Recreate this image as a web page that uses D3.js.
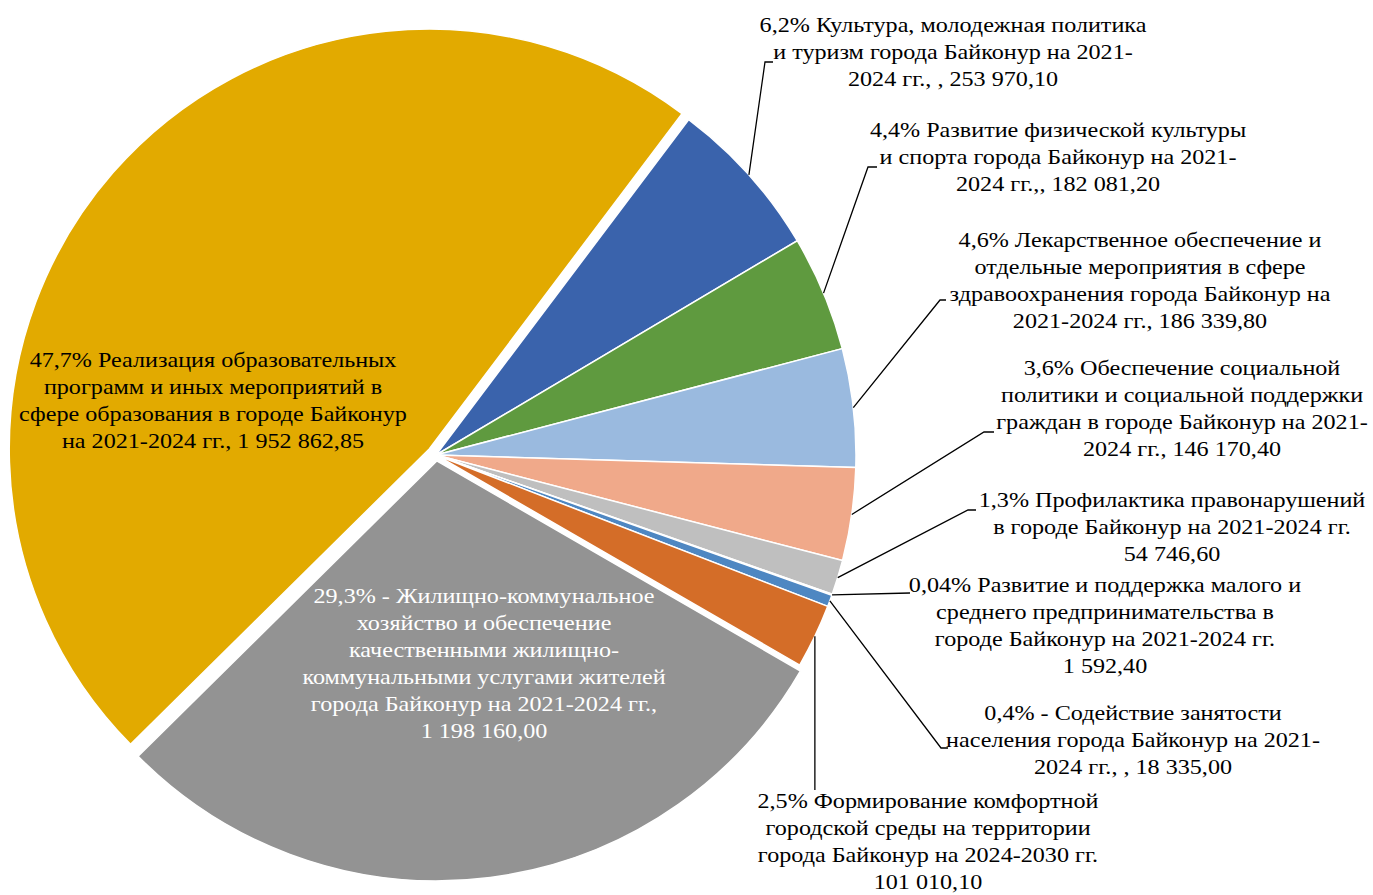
<!DOCTYPE html>
<html>
<head>
<meta charset="utf-8">
<script src="https://cdn.jsdelivr.net/npm/d3@7"></script>
<style>
  body { margin: 0; background: #fff; }
  svg { display: block; }
  text { font-family: "Liberation Serif", "Times New Roman", serif; font-size: 21px; }
</style>
</head>
<body>
<svg width="1373" height="895"></svg>
<script>
// data, in pie order (clockwise)
const categories = [
  'Культура', 'Физкультура и спорт', 'Лекарственное обеспечение', 'Социальная политика',
  'Профилактика правонарушений', 'Малое и среднее предпринимательство', 'Содействие занятости',
  'Комфортная городская среда', 'ЖКХ', 'Образование'
];
const values = [253970.10, 182081.20, 186339.80, 146170.40, 54746.60, 1592.40, 18335.00, 101010.10, 1198160.00, 1952862.85];
const labelLines = [
  ['6,2% Культура, молодежная политика', 'и туризм города Байконур на 2021-', '2024 гг., , 253 970,10'],
  ['4,4% Развитие физической культуры', 'и спорта города Байконур на 2021-', '2024 гг.,, 182 081,20'],
  ['4,6% Лекарственное обеспечение и', 'отдельные мероприятия в сфере', 'здравоохранения города Байконур на', '2021-2024 гг., 186 339,80'],
  ['3,6% Обеспечение социальной', 'политики и социальной поддержки', 'граждан в городе Байконур на 2021-', '2024 гг., 146 170,40'],
  ['1,3% Профилактика правонарушений', 'в городе Байконур на 2021-2024 гг.', '54 746,60'],
  ['0,04% Развитие и поддержка малого и', 'среднего предпринимательства в', 'городе Байконур на 2021-2024 гг.', '1 592,40'],
  ['0,4% - Содействие занятости', 'населения города Байконур на 2021-', '2024 гг., , 18 335,00'],
  ['2,5% Формирование комфортной', 'городской среды на территории', 'города Байконур на 2024-2030 гг.', '101 010,10'],
  ['29,3% - Жилищно-коммунальное', 'хозяйство и обеспечение', 'качественными жилищно-', 'коммунальными услугами жителей', 'города Байконур на 2021-2024 гг.,', '1 198 160,00'],
  ['47,7% Реализация образовательных', 'программ и иных мероприятий в', 'сфере образования в городе Байконур', 'на 2021-2024 гг., 1 952 862,85']
];

// styles and layout
const colors = ['#3A63AC', '#5F9A3F', '#9ABADF', '#F0A98A', '#BFBFBF', '#F6E0B2', '#4E87C2', '#D46D28', '#939393', '#E2AA00'];
const explode = [0, 0, 0, 0, 0, 0, 0, 0, 6, 9];
const labelPos = [
  {x: 953, y: 25}, {x: 1058, y: 130}, {x: 1140, y: 240}, {x: 1182, y: 368}, {x: 1172, y: 500},
  {x: 1105, y: 585}, {x: 1133, y: 713}, {x: 928, y: 801}, {x: 484, y: 596}, {x: 213, y: 360}
];
const labelColor = ['#000', '#000', '#000', '#000', '#000', '#000', '#000', '#000', '#fff', '#000'];
// leader polylines after the point on the slice edge (null = label inside)
const leaders = [
  [[765, 62], [773, 62]],
  [[868, 167], [877, 167]],
  [[940, 300], [946, 300]],
  [[984, 432], [994, 432]],
  [[968, 510], [976, 510]],
  [[910, 593]],
  [[941, 748], [948, 748]],
  [[null, 790]],
  null, null
];

const cx = 436, cy = 455, R = 420;
const lineH = 27;
const stretchX = 1.15; // text in the original is widened

const svg = d3.select('svg');
const g = svg.append('g').attr('transform', `translate(${cx},${cy})`);

const pie = d3.pie().sort(null).value(d => d)
  .startAngle(37 * Math.PI / 180)
  .endAngle(37 * Math.PI / 180 + 2 * Math.PI);
const arcs = pie(values);

const arc = d3.arc().innerRadius(0).outerRadius(R);
const edgeArc = d3.arc().innerRadius(R).outerRadius(R);

g.selectAll('path.slice')
  .data(arcs)
  .enter()
  .append('path')
  .attr('class', 'slice')
  .attr('d', arc)
  .attr('fill', (d, i) => colors[i])
  .attr('stroke', '#fff')
  .attr('stroke-width', 1.5)
  .attr('transform', (d, i) => {
    const mid = (d.startAngle + d.endAngle) / 2;
    return `translate(${explode[i] * Math.sin(mid)},${-explode[i] * Math.cos(mid)})`;
  });

// leader lines
arcs.forEach((d, i) => {
  if (!leaders[i]) return;
  const p = edgeArc.centroid(d);
  const start = [cx + p[0], cy + p[1]];
  const pts = [start].concat(leaders[i].map(q => [q[0] === null ? start[0] : q[0], q[1]]));
  svg.append('path')
    .attr('d', d3.line()(pts))
    .attr('fill', 'none')
    .attr('stroke', '#000')
    .attr('stroke-width', 1.3);
});

// labels
labelLines.forEach((lines, i) => {
  const t = svg.append('text')
    .attr('text-anchor', 'middle')
    .attr('fill', labelColor[i])
    .attr('transform', `translate(${labelPos[i].x},${labelPos[i].y}) scale(${stretchX},1)`);
  lines.forEach((s, k) => {
    t.append('tspan')
      .attr('x', 0)
      .attr('y', k * lineH)
      .attr('dy', '0.35em')
      .text(s);
  });
});
</script>
</body>
</html>
